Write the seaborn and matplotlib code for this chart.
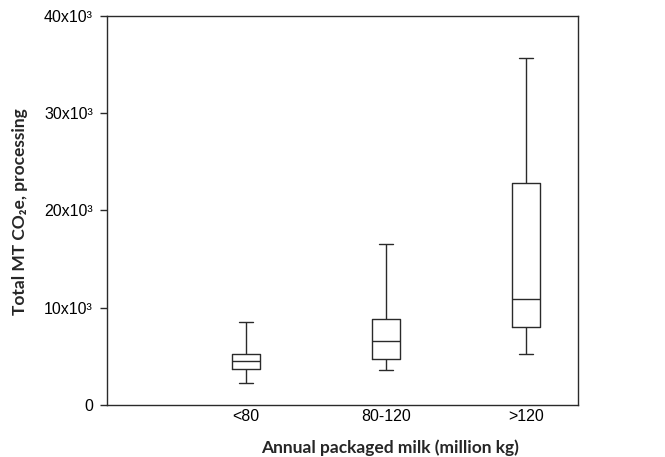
import pandas as pd
import seaborn as sns
from matplotlib import pyplot as plt

# five-number summaries (min, q1, median, q3, max)
categories = ["<80", "80-120", ">120"]
low_whisker = [2300, 3570, 5240]
q1 = [3730, 4700, 8020]
median = [4560, 6550, 10900]
q3 = [5240, 8810, 22800]
high_whisker = [8570, 16560, 35680]
y_ticks = [0, 10000, 20000, 30000, 40000]
y_tick_labels = ["0", "10x10³", "20x10³", "30x10³", "40x10³"]

rows = []
for i, cat in enumerate(categories):
    for v in (low_whisker[i], q1[i], median[i], q3[i], high_whisker[i]):
        rows.append({"group": cat, "co2": v})
df = pd.DataFrame(rows)

sns.set_style("ticks")
plt.rcParams["font.family"] = ["Liberation Sans", "DejaVu Sans"]
plt.rcParams["text.color"] = "black"
plt.rcParams["xtick.color"] = "black"
plt.rcParams["ytick.color"] = "black"

fig = plt.figure(figsize=(6.65, 4.57), dpi=100)
ax = fig.add_axes([0.1609, 0.1138, 0.7083, 0.8512])

line = {"color": "#2a2a2a", "linewidth": 1.0}
sns.boxplot(
    data=df, x="group", y="co2", order=categories, whis=(0, 100), width=0.2,
    fill=False, color="#2a2a2a", linewidth=1.0, showfliers=False, ax=ax,
    boxprops=line, whiskerprops=line, capprops=line, medianprops=line,
)

ax.set_xlim(-0.993, 2.371)
ax.set_ylim(0, 40000)
ax.set_yticks(y_ticks)
ax.set_yticklabels(y_tick_labels, fontsize=11.5, family=["Liberation Sans", "DejaVu Sans"])
for lab in ax.get_xticklabels():
    lab.set_fontfamily(["Liberation Sans", "DejaVu Sans"])
    lab.set_fontsize(11.5)
ax.tick_params(axis="y", direction="out", length=5, width=1, color="#2a2a2a", pad=5)
ax.tick_params(axis="x", length=0, pad=3)
for s in ax.spines.values():
    s.set_visible(True)
    s.set_linewidth(1.0)
    s.set_color("#2a2a2a")

ax.set_xlabel("Annual packaged milk (million kg)", fontsize=12.5, fontweight="bold",
              family=["Lato", "DejaVu Sans"])
ax.xaxis.set_label_coords(0.601, -0.088)
ax.set_ylabel("Total MT CO₂e, processing", fontsize=12.5, fontweight="bold",
              family=["Lato", "DejaVu Sans"])
ax.yaxis.set_label_coords(-0.168, 0.497)

fig.savefig("out.png", dpi=100)
